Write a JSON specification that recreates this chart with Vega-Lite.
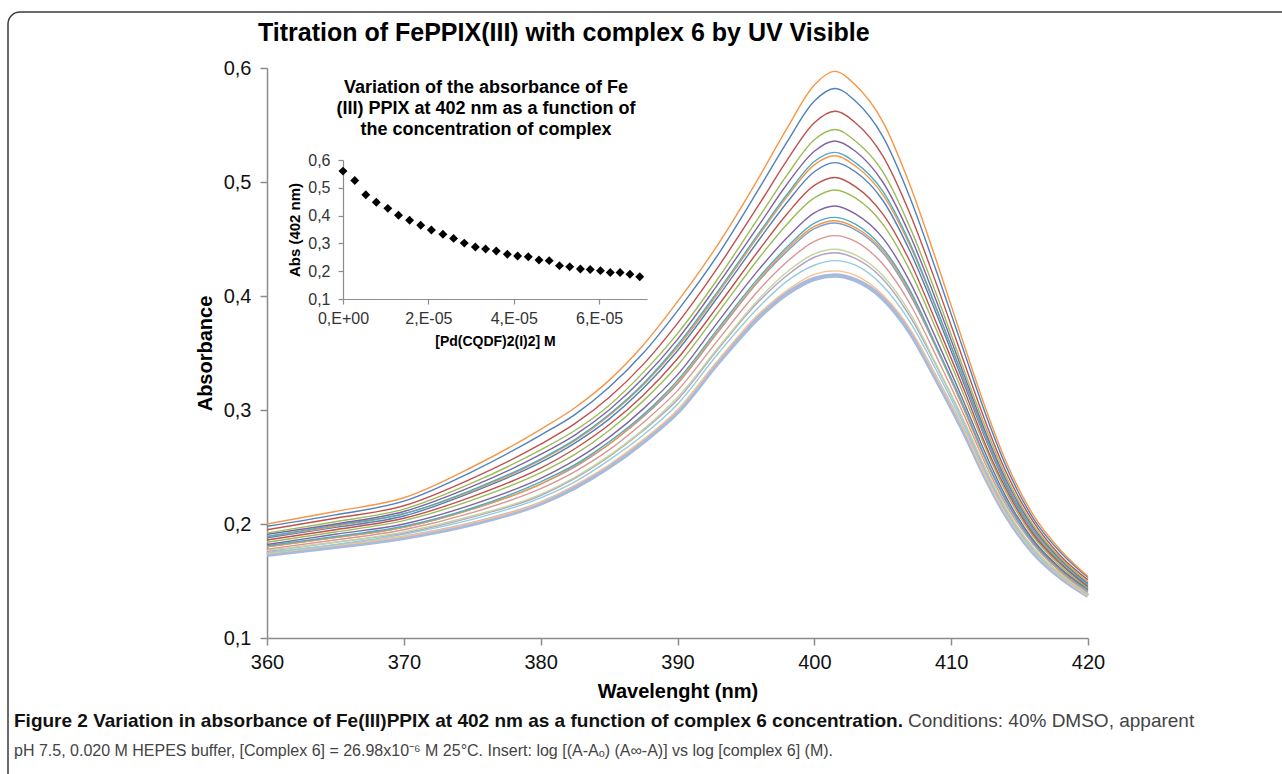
{
"$schema": "https://vega.github.io/schema/vega-lite/v6.json",
"width": 821, "height": 570,
"autosize": {"type": "none"},
"padding": {"left": 267, "top": 68, "right": 194, "bottom": 136},
"background": "white",
"config": {"view": {"stroke": null}, "font": "Liberation Sans", "axis": {"grid": false}},
"resolve": {"scale": {"x": "independent", "y": "independent"}},
"layer": [
{
 "data": {"values": [{}]},
 "mark": {"type": "rect", "x": -259, "y": -56, "x2": 1040, "y2": 730, "cornerRadius": 12, "fillOpacity": 0, "fill": "white", "stroke": "#3a3a3a", "strokeWidth": 1.5},
 "encoding": {}
},
{
 "data": {"values": [
{"s":20,"w":360,"a":0.173},{"s":20,"w":365,"a":0.180},{"s":20,"w":370,"a":0.188},{"s":20,"w":375,"a":0.200},{"s":20,"w":380,"a":0.218},{"s":20,"w":382.5,"a":0.232},{"s":20,"w":385,"a":0.250},{"s":20,"w":387.5,"a":0.272},{"s":20,"w":390,"a":0.298},{"s":20,"w":393,"a":0.342},{"s":20,"w":396,"a":0.382},{"s":20,"w":398,"a":0.402},{"s":20,"w":400,"a":0.415},{"s":20,"w":401.5,"a":0.418},{"s":20,"w":403,"a":0.414},{"s":20,"w":405,"a":0.398},{"s":20,"w":407,"a":0.368},{"s":20,"w":409,"a":0.325},{"s":20,"w":411,"a":0.279},{"s":20,"w":412.5,"a":0.241},{"s":20,"w":414,"a":0.208},{"s":20,"w":416,"a":0.175},{"s":20,"w":418,"a":0.153},{"s":20,"w":420,"a":0.137},
{"s":19,"w":360,"a":0.174},{"s":19,"w":365,"a":0.181},{"s":19,"w":370,"a":0.189},{"s":19,"w":375,"a":0.201},{"s":19,"w":380,"a":0.219},{"s":19,"w":382.5,"a":0.234},{"s":19,"w":385,"a":0.252},{"s":19,"w":387.5,"a":0.274},{"s":19,"w":390,"a":0.300},{"s":19,"w":393,"a":0.344},{"s":19,"w":396,"a":0.385},{"s":19,"w":398,"a":0.405},{"s":19,"w":400,"a":0.419},{"s":19,"w":401.5,"a":0.422},{"s":19,"w":403,"a":0.418},{"s":19,"w":405,"a":0.401},{"s":19,"w":407,"a":0.371},{"s":19,"w":409,"a":0.327},{"s":19,"w":411,"a":0.281},{"s":19,"w":412.5,"a":0.242},{"s":19,"w":414,"a":0.209},{"s":19,"w":416,"a":0.176},{"s":19,"w":418,"a":0.154},{"s":19,"w":420,"a":0.137},
{"s":18,"w":360,"a":0.175},{"s":18,"w":365,"a":0.182},{"s":18,"w":370,"a":0.191},{"s":18,"w":375,"a":0.204},{"s":18,"w":380,"a":0.223},{"s":18,"w":382.5,"a":0.237},{"s":18,"w":385,"a":0.256},{"s":18,"w":387.5,"a":0.278},{"s":18,"w":390,"a":0.305},{"s":18,"w":393,"a":0.350},{"s":18,"w":396,"a":0.391},{"s":18,"w":398,"a":0.413},{"s":18,"w":400,"a":0.427},{"s":18,"w":401.5,"a":0.431},{"s":18,"w":403,"a":0.427},{"s":18,"w":405,"a":0.409},{"s":18,"w":407,"a":0.377},{"s":18,"w":409,"a":0.333},{"s":18,"w":411,"a":0.285},{"s":18,"w":412.5,"a":0.246},{"s":18,"w":414,"a":0.211},{"s":18,"w":416,"a":0.177},{"s":18,"w":418,"a":0.155},{"s":18,"w":420,"a":0.138},
{"s":17,"w":360,"a":0.176},{"s":17,"w":365,"a":0.184},{"s":17,"w":370,"a":0.192},{"s":17,"w":375,"a":0.206},{"s":17,"w":380,"a":0.225},{"s":17,"w":382.5,"a":0.240},{"s":17,"w":385,"a":0.259},{"s":17,"w":387.5,"a":0.282},{"s":17,"w":390,"a":0.309},{"s":17,"w":393,"a":0.354},{"s":17,"w":396,"a":0.396},{"s":17,"w":398,"a":0.418},{"s":17,"w":400,"a":0.434},{"s":17,"w":401.5,"a":0.438},{"s":17,"w":403,"a":0.433},{"s":17,"w":405,"a":0.415},{"s":17,"w":407,"a":0.382},{"s":17,"w":409,"a":0.337},{"s":17,"w":411,"a":0.288},{"s":17,"w":412.5,"a":0.248},{"s":17,"w":414,"a":0.213},{"s":17,"w":416,"a":0.179},{"s":17,"w":418,"a":0.156},{"s":17,"w":420,"a":0.139},
{"s":16,"w":360,"a":0.177},{"s":16,"w":365,"a":0.184},{"s":16,"w":370,"a":0.193},{"s":16,"w":375,"a":0.207},{"s":16,"w":380,"a":0.226},{"s":16,"w":382.5,"a":0.241},{"s":16,"w":385,"a":0.260},{"s":16,"w":387.5,"a":0.283},{"s":16,"w":390,"a":0.311},{"s":16,"w":393,"a":0.355},{"s":16,"w":396,"a":0.398},{"s":16,"w":398,"a":0.421},{"s":16,"w":400,"a":0.437},{"s":16,"w":401.5,"a":0.441},{"s":16,"w":403,"a":0.436},{"s":16,"w":405,"a":0.418},{"s":16,"w":407,"a":0.385},{"s":16,"w":409,"a":0.338},{"s":16,"w":411,"a":0.289},{"s":16,"w":412.5,"a":0.249},{"s":16,"w":414,"a":0.214},{"s":16,"w":416,"a":0.179},{"s":16,"w":418,"a":0.156},{"s":16,"w":420,"a":0.139},
{"s":15,"w":360,"a":0.178},{"s":15,"w":365,"a":0.186},{"s":15,"w":370,"a":0.195},{"s":15,"w":375,"a":0.210},{"s":15,"w":380,"a":0.231},{"s":15,"w":382.5,"a":0.246},{"s":15,"w":385,"a":0.265},{"s":15,"w":387.5,"a":0.289},{"s":15,"w":390,"a":0.317},{"s":15,"w":393,"a":0.362},{"s":15,"w":396,"a":0.406},{"s":15,"w":398,"a":0.430},{"s":15,"w":400,"a":0.448},{"s":15,"w":401.5,"a":0.453},{"s":15,"w":403,"a":0.448},{"s":15,"w":405,"a":0.428},{"s":15,"w":407,"a":0.393},{"s":15,"w":409,"a":0.345},{"s":15,"w":411,"a":0.294},{"s":15,"w":412.5,"a":0.253},{"s":15,"w":414,"a":0.217},{"s":15,"w":416,"a":0.182},{"s":15,"w":418,"a":0.158},{"s":15,"w":420,"a":0.140},
{"s":14,"w":360,"a":0.180},{"s":14,"w":365,"a":0.188},{"s":14,"w":370,"a":0.197},{"s":14,"w":375,"a":0.213},{"s":14,"w":380,"a":0.235},{"s":14,"w":382.5,"a":0.250},{"s":14,"w":385,"a":0.270},{"s":14,"w":387.5,"a":0.294},{"s":14,"w":390,"a":0.323},{"s":14,"w":393,"a":0.369},{"s":14,"w":396,"a":0.414},{"s":14,"w":398,"a":0.439},{"s":14,"w":400,"a":0.459},{"s":14,"w":401.5,"a":0.464},{"s":14,"w":403,"a":0.458},{"s":14,"w":405,"a":0.438},{"s":14,"w":407,"a":0.401},{"s":14,"w":409,"a":0.352},{"s":14,"w":411,"a":0.299},{"s":14,"w":412.5,"a":0.257},{"s":14,"w":414,"a":0.220},{"s":14,"w":416,"a":0.184},{"s":14,"w":418,"a":0.159},{"s":14,"w":420,"a":0.141},
{"s":13,"w":360,"a":0.180},{"s":13,"w":365,"a":0.188},{"s":13,"w":370,"a":0.197},{"s":13,"w":375,"a":0.213},{"s":13,"w":380,"a":0.235},{"s":13,"w":382.5,"a":0.251},{"s":13,"w":385,"a":0.270},{"s":13,"w":387.5,"a":0.295},{"s":13,"w":390,"a":0.324},{"s":13,"w":393,"a":0.370},{"s":13,"w":396,"a":0.415},{"s":13,"w":398,"a":0.441},{"s":13,"w":400,"a":0.461},{"s":13,"w":401.5,"a":0.466},{"s":13,"w":403,"a":0.460},{"s":13,"w":405,"a":0.440},{"s":13,"w":407,"a":0.403},{"s":13,"w":409,"a":0.353},{"s":13,"w":411,"a":0.299},{"s":13,"w":412.5,"a":0.257},{"s":13,"w":414,"a":0.221},{"s":13,"w":416,"a":0.184},{"s":13,"w":418,"a":0.159},{"s":13,"w":420,"a":0.142},
{"s":12,"w":360,"a":0.181},{"s":12,"w":365,"a":0.189},{"s":12,"w":370,"a":0.198},{"s":12,"w":375,"a":0.214},{"s":12,"w":380,"a":0.237},{"s":12,"w":382.5,"a":0.252},{"s":12,"w":385,"a":0.272},{"s":12,"w":387.5,"a":0.296},{"s":12,"w":390,"a":0.326},{"s":12,"w":393,"a":0.372},{"s":12,"w":396,"a":0.417},{"s":12,"w":398,"a":0.443},{"s":12,"w":400,"a":0.464},{"s":12,"w":401.5,"a":0.469},{"s":12,"w":403,"a":0.463},{"s":12,"w":405,"a":0.442},{"s":12,"w":407,"a":0.405},{"s":12,"w":409,"a":0.354},{"s":12,"w":411,"a":0.301},{"s":12,"w":412.5,"a":0.258},{"s":12,"w":414,"a":0.221},{"s":12,"w":416,"a":0.184},{"s":12,"w":418,"a":0.160},{"s":12,"w":420,"a":0.142},
{"s":11,"w":360,"a":0.182},{"s":11,"w":365,"a":0.191},{"s":11,"w":370,"a":0.200},{"s":11,"w":375,"a":0.217},{"s":11,"w":380,"a":0.240},{"s":11,"w":382.5,"a":0.256},{"s":11,"w":385,"a":0.276},{"s":11,"w":387.5,"a":0.301},{"s":11,"w":390,"a":0.331},{"s":11,"w":393,"a":0.378},{"s":11,"w":396,"a":0.424},{"s":11,"w":398,"a":0.451},{"s":11,"w":400,"a":0.473},{"s":11,"w":401.5,"a":0.479},{"s":11,"w":403,"a":0.472},{"s":11,"w":405,"a":0.451},{"s":11,"w":407,"a":0.412},{"s":11,"w":409,"a":0.360},{"s":11,"w":411,"a":0.305},{"s":11,"w":412.5,"a":0.262},{"s":11,"w":414,"a":0.224},{"s":11,"w":416,"a":0.186},{"s":11,"w":418,"a":0.161},{"s":11,"w":420,"a":0.143},
{"s":10,"w":360,"a":0.184},{"s":10,"w":365,"a":0.193},{"s":10,"w":370,"a":0.203},{"s":10,"w":375,"a":0.221},{"s":10,"w":380,"a":0.245},{"s":10,"w":382.5,"a":0.261},{"s":10,"w":385,"a":0.282},{"s":10,"w":387.5,"a":0.308},{"s":10,"w":390,"a":0.339},{"s":10,"w":393,"a":0.386},{"s":10,"w":396,"a":0.434},{"s":10,"w":398,"a":0.463},{"s":10,"w":400,"a":0.486},{"s":10,"w":401.5,"a":0.493},{"s":10,"w":403,"a":0.486},{"s":10,"w":405,"a":0.463},{"s":10,"w":407,"a":0.422},{"s":10,"w":409,"a":0.368},{"s":10,"w":411,"a":0.311},{"s":10,"w":412.5,"a":0.267},{"s":10,"w":414,"a":0.228},{"s":10,"w":416,"a":0.189},{"s":10,"w":418,"a":0.163},{"s":10,"w":420,"a":0.144},
{"s":9,"w":360,"a":0.186},{"s":9,"w":365,"a":0.195},{"s":9,"w":370,"a":0.205},{"s":9,"w":375,"a":0.224},{"s":9,"w":380,"a":0.249},{"s":9,"w":382.5,"a":0.266},{"s":9,"w":385,"a":0.287},{"s":9,"w":387.5,"a":0.313},{"s":9,"w":390,"a":0.345},{"s":9,"w":393,"a":0.392},{"s":9,"w":396,"a":0.441},{"s":9,"w":398,"a":0.472},{"s":9,"w":400,"a":0.497},{"s":9,"w":401.5,"a":0.504},{"s":9,"w":403,"a":0.496},{"s":9,"w":405,"a":0.472},{"s":9,"w":407,"a":0.430},{"s":9,"w":409,"a":0.374},{"s":9,"w":411,"a":0.316},{"s":9,"w":412.5,"a":0.270},{"s":9,"w":414,"a":0.231},{"s":9,"w":416,"a":0.191},{"s":9,"w":418,"a":0.165},{"s":9,"w":420,"a":0.145},
{"s":8,"w":360,"a":0.188},{"s":8,"w":365,"a":0.197},{"s":8,"w":370,"a":0.207},{"s":8,"w":375,"a":0.228},{"s":8,"w":380,"a":0.254},{"s":8,"w":382.5,"a":0.271},{"s":8,"w":385,"a":0.292},{"s":8,"w":387.5,"a":0.319},{"s":8,"w":390,"a":0.352},{"s":8,"w":393,"a":0.400},{"s":8,"w":396,"a":0.450},{"s":8,"w":398,"a":0.482},{"s":8,"w":400,"a":0.509},{"s":8,"w":401.5,"a":0.517},{"s":8,"w":403,"a":0.509},{"s":8,"w":405,"a":0.484},{"s":8,"w":407,"a":0.439},{"s":8,"w":409,"a":0.382},{"s":8,"w":411,"a":0.321},{"s":8,"w":412.5,"a":0.275},{"s":8,"w":414,"a":0.234},{"s":8,"w":416,"a":0.193},{"s":8,"w":418,"a":0.166},{"s":8,"w":420,"a":0.146},
{"s":7,"w":360,"a":0.189},{"s":7,"w":365,"a":0.198},{"s":7,"w":370,"a":0.209},{"s":7,"w":375,"a":0.229},{"s":7,"w":380,"a":0.256},{"s":7,"w":382.5,"a":0.273},{"s":7,"w":385,"a":0.295},{"s":7,"w":387.5,"a":0.322},{"s":7,"w":390,"a":0.355},{"s":7,"w":393,"a":0.403},{"s":7,"w":396,"a":0.454},{"s":7,"w":398,"a":0.487},{"s":7,"w":400,"a":0.515},{"s":7,"w":401.5,"a":0.523},{"s":7,"w":403,"a":0.514},{"s":7,"w":405,"a":0.489},{"s":7,"w":407,"a":0.444},{"s":7,"w":409,"a":0.386},{"s":7,"w":411,"a":0.324},{"s":7,"w":412.5,"a":0.277},{"s":7,"w":414,"a":0.236},{"s":7,"w":416,"a":0.194},{"s":7,"w":418,"a":0.167},{"s":7,"w":420,"a":0.147},
{"s":6,"w":360,"a":0.189},{"s":6,"w":365,"a":0.199},{"s":6,"w":370,"a":0.209},{"s":6,"w":375,"a":0.230},{"s":6,"w":380,"a":0.257},{"s":6,"w":382.5,"a":0.274},{"s":6,"w":385,"a":0.296},{"s":6,"w":387.5,"a":0.323},{"s":6,"w":390,"a":0.357},{"s":6,"w":393,"a":0.405},{"s":6,"w":396,"a":0.456},{"s":6,"w":398,"a":0.489},{"s":6,"w":400,"a":0.518},{"s":6,"w":401.5,"a":0.526},{"s":6,"w":403,"a":0.517},{"s":6,"w":405,"a":0.492},{"s":6,"w":407,"a":0.446},{"s":6,"w":409,"a":0.387},{"s":6,"w":411,"a":0.325},{"s":6,"w":412.5,"a":0.278},{"s":6,"w":414,"a":0.236},{"s":6,"w":416,"a":0.195},{"s":6,"w":418,"a":0.168},{"s":6,"w":420,"a":0.147},
{"s":5,"w":360,"a":0.191},{"s":5,"w":365,"a":0.200},{"s":5,"w":370,"a":0.211},{"s":5,"w":375,"a":0.233},{"s":5,"w":380,"a":0.261},{"s":5,"w":382.5,"a":0.278},{"s":5,"w":385,"a":0.300},{"s":5,"w":387.5,"a":0.328},{"s":5,"w":390,"a":0.362},{"s":5,"w":393,"a":0.411},{"s":5,"w":396,"a":0.463},{"s":5,"w":398,"a":0.498},{"s":5,"w":400,"a":0.527},{"s":5,"w":401.5,"a":0.536},{"s":5,"w":403,"a":0.527},{"s":5,"w":405,"a":0.500},{"s":5,"w":407,"a":0.453},{"s":5,"w":409,"a":0.393},{"s":5,"w":411,"a":0.329},{"s":5,"w":412.5,"a":0.281},{"s":5,"w":414,"a":0.239},{"s":5,"w":416,"a":0.197},{"s":5,"w":418,"a":0.169},{"s":5,"w":420,"a":0.148},
{"s":4,"w":360,"a":0.192},{"s":4,"w":365,"a":0.202},{"s":4,"w":370,"a":0.213},{"s":4,"w":375,"a":0.236},{"s":4,"w":380,"a":0.265},{"s":4,"w":382.5,"a":0.282},{"s":4,"w":385,"a":0.304},{"s":4,"w":387.5,"a":0.333},{"s":4,"w":390,"a":0.367},{"s":4,"w":393,"a":0.416},{"s":4,"w":396,"a":0.470},{"s":4,"w":398,"a":0.506},{"s":4,"w":400,"a":0.537},{"s":4,"w":401.5,"a":0.546},{"s":4,"w":403,"a":0.536},{"s":4,"w":405,"a":0.509},{"s":4,"w":407,"a":0.460},{"s":4,"w":409,"a":0.399},{"s":4,"w":411,"a":0.333},{"s":4,"w":412.5,"a":0.285},{"s":4,"w":414,"a":0.242},{"s":4,"w":416,"a":0.199},{"s":4,"w":418,"a":0.170},{"s":4,"w":420,"a":0.149},
{"s":3,"w":360,"a":0.195},{"s":3,"w":365,"a":0.205},{"s":3,"w":370,"a":0.216},{"s":3,"w":375,"a":0.240},{"s":3,"w":380,"a":0.270},{"s":3,"w":382.5,"a":0.288},{"s":3,"w":385,"a":0.311},{"s":3,"w":387.5,"a":0.340},{"s":3,"w":390,"a":0.376},{"s":3,"w":393,"a":0.426},{"s":3,"w":396,"a":0.481},{"s":3,"w":398,"a":0.519},{"s":3,"w":400,"a":0.552},{"s":3,"w":401.5,"a":0.562},{"s":3,"w":403,"a":0.552},{"s":3,"w":405,"a":0.523},{"s":3,"w":407,"a":0.472},{"s":3,"w":409,"a":0.408},{"s":3,"w":411,"a":0.340},{"s":3,"w":412.5,"a":0.290},{"s":3,"w":414,"a":0.246},{"s":3,"w":416,"a":0.202},{"s":3,"w":418,"a":0.172},{"s":3,"w":420,"a":0.151},
{"s":2,"w":360,"a":0.198},{"s":2,"w":365,"a":0.208},{"s":2,"w":370,"a":0.220},{"s":2,"w":375,"a":0.246},{"s":2,"w":380,"a":0.278},{"s":2,"w":382.5,"a":0.296},{"s":2,"w":385,"a":0.320},{"s":2,"w":387.5,"a":0.350},{"s":2,"w":390,"a":0.387},{"s":2,"w":393,"a":0.437},{"s":2,"w":396,"a":0.495},{"s":2,"w":398,"a":0.535},{"s":2,"w":400,"a":0.571},{"s":2,"w":401.5,"a":0.582},{"s":2,"w":403,"a":0.571},{"s":2,"w":405,"a":0.540},{"s":2,"w":407,"a":0.486},{"s":2,"w":409,"a":0.419},{"s":2,"w":411,"a":0.349},{"s":2,"w":412.5,"a":0.297},{"s":2,"w":414,"a":0.251},{"s":2,"w":416,"a":0.205},{"s":2,"w":418,"a":0.175},{"s":2,"w":420,"a":0.153},
{"s":1,"w":360,"a":0.200},{"s":1,"w":365,"a":0.211},{"s":1,"w":370,"a":0.223},{"s":1,"w":375,"a":0.250},{"s":1,"w":380,"a":0.283},{"s":1,"w":382.5,"a":0.302},{"s":1,"w":385,"a":0.326},{"s":1,"w":387.5,"a":0.357},{"s":1,"w":390,"a":0.395},{"s":1,"w":393,"a":0.446},{"s":1,"w":396,"a":0.505},{"s":1,"w":398,"a":0.547},{"s":1,"w":400,"a":0.585},{"s":1,"w":401.5,"a":0.597},{"s":1,"w":403,"a":0.585},{"s":1,"w":405,"a":0.553},{"s":1,"w":407,"a":0.497},{"s":1,"w":409,"a":0.428},{"s":1,"w":411,"a":0.355},{"s":1,"w":412.5,"a":0.302},{"s":1,"w":414,"a":0.255},{"s":1,"w":416,"a":0.208},{"s":1,"w":418,"a":0.177},{"s":1,"w":420,"a":0.154}
 ]},
 "mark": {"type": "line", "interpolate": "monotone"},
 "encoding": {
  "x": {"field": "w", "type": "quantitative",
   "scale": {"domain": [360, 420], "nice": false, "zero": false},
   "axis": {"values": [360, 370, 380, 390, 400, 410, 420], "title": "Wavelenght (nm)", "titleFontSize": 20, "titleFontWeight": "bold", "titleColor": "#000", "titlePadding": 9,
    "labelFontSize": 20, "labelColor": "#111", "labelFlush": false, "labelOverlap": false, "labelPadding": 7,
    "tickSize": 7, "tickColor": "#8C8C8C", "tickWidth": 1.5, "domainColor": "#8C8C8C", "domainWidth": 1.5, "grid": false}},
  "y": {"field": "a", "type": "quantitative",
   "scale": {"domain": [0.1, 0.6], "nice": false, "zero": false},
   "axis": {"values": [0.1, 0.2, 0.3, 0.4, 0.5, 0.6], "labelExpr": "replace(format(datum.value, '.1f'), '.', ',')", "title": "Absorbance", "titleFontSize": 20, "titleFontWeight": "bold", "titleColor": "#000", "titlePadding": 8,
    "labelFontSize": 20, "labelColor": "#111", "labelFlush": false, "labelOverlap": false, "labelPadding": 9,
    "tickSize": 7, "tickColor": "#8C8C8C", "tickWidth": 1.5, "domainColor": "#8C8C8C", "domainWidth": 1.5, "grid": false}},
  "color": {"field": "s", "type": "nominal", "legend": null,
   "scale": {"domain": [20, 19, 18, 17, 16, 15, 14, 13, 12, 11, 10, 9, 8, 7, 6, 5, 4, 3, 2, 1],
    "range": ["#A7BBDD", "#FAC090", "#93CDDD", "#B3A2C7", "#C3D69B", "#D99694", "#7BA0CD", "#F79646", "#4BACC6", "#8064A2", "#9BBB59", "#C0504D", "#4F81BD", "#F79646", "#4BACC6", "#8064A2", "#9BBB59", "#C0504D", "#4F81BD", "#F79646"]}},
  "strokeWidth": {"condition": {"test": "datum.s == 20", "value": 4.5}, "value": 1.4}
 }
},
{
 "data": {"values": [
{"c":0,"v":0.560},{"c":0.00000275,"v":0.526},{"c":0.00000534,"v":0.475},{"c":0.0000078,"v":0.448},{"c":0.0000105,"v":0.426},{"c":0.0000130,"v":0.401},{"c":0.0000156,"v":0.383},{"c":0.0000182,"v":0.365},{"c":0.0000207,"v":0.348},{"c":0.0000234,"v":0.333},{"c":0.0000259,"v":0.318},{"c":0.0000284,"v":0.301},{"c":0.0000310,"v":0.287},{"c":0.0000334,"v":0.280},{"c":0.0000359,"v":0.273},{"c":0.0000385,"v":0.261},{"c":0.0000409,"v":0.255},{"c":0.0000434,"v":0.252},{"c":0.0000459,"v":0.240},{"c":0.0000483,"v":0.238},{"c":0.0000507,"v":0.220},{"c":0.0000531,"v":0.216},{"c":0.0000556,"v":0.208},{"c":0.0000579,"v":0.206},{"c":0.0000603,"v":0.202},{"c":0.0000626,"v":0.195},{"c":0.0000649,"v":0.195},{"c":0.0000672,"v":0.189},{"c":0.0000695,"v":0.180}
 ]},
 "mark": {"type": "point", "shape": "diamond", "filled": true, "color": "#000", "opacity": 1, "size": 80},
 "encoding": {
  "x": {"field": "c", "type": "quantitative",
   "scale": {"domain": [0, 0.0000712], "range": [76, 380], "nice": false, "zero": false},
   "axis": {"orient": "bottom", "offset": -339, "values": [0, 0.00002, 0.00004, 0.00006],
    "labelExpr": "datum.value == 0 ? '0,E+00' : format(datum.value * 100000, 'd') + ',E-05'",
    "title": "[Pd(CQDF)2(I)2] M", "titleFontSize": 14, "titleFontWeight": "bold", "titleColor": "#000", "titlePadding": 8,
    "labelFontSize": 16, "labelColor": "#333", "labelFlush": false, "labelOverlap": false, "labelPadding": 6,
    "tickSize": 5, "tickColor": "#8C8C8C", "tickWidth": 1.2, "domainColor": "#8C8C8C", "domainWidth": 1.2, "grid": false}},
  "y": {"field": "v", "type": "quantitative",
   "scale": {"domain": [0.1, 0.6], "range": [231, 92], "nice": false, "zero": false},
   "axis": {"orient": "left", "offset": -76, "values": [0.1, 0.2, 0.3, 0.4, 0.5, 0.6],
    "labelExpr": "replace(format(datum.value, '.1f'), '.', ',')",
    "title": "Abs (402 nm)", "titleFontSize": 15, "titleFontWeight": "bold", "titleColor": "#000", "titlePadding": 5,
    "labelFontSize": 16, "labelColor": "#333", "labelFlush": false, "labelOverlap": false, "labelPadding": 8,
    "tickSize": 5, "tickColor": "#8C8C8C", "tickWidth": 1.2, "domainColor": "#8C8C8C", "domainWidth": 1.2, "grid": false}}
 }
},
{
 "data": {"values": [{}]},
 "mark": {"type": "text", "x": -9, "y": -35, "align": "left", "baseline": "middle", "font": "Liberation Sans", "fontSize": 25, "fontWeight": "bold", "color": "#000",
  "text": "Titration of FePPIX(III) with complex 6 by UV Visible"},
 "encoding": {}
},
{
 "data": {"values": [{}]},
 "mark": {"type": "text", "x": 219, "y": 11, "align": "center", "baseline": "top", "font": "Liberation Sans", "fontSize": 18, "fontWeight": "bold", "color": "#000", "lineHeight": 21,
  "text": ["Variation of the absorbance of Fe", "(III) PPIX at 402 nm as a function of", "the concentration of complex"]},
 "encoding": {}
},
{
 "data": {"values": [{}]},
 "mark": {"type": "text", "x": -253, "y": 653, "align": "left", "baseline": "middle", "font": "Liberation Sans", "fontSize": 19, "fontWeight": "bold", "color": "#111",
  "text": "Figure 2 Variation in absorbance of Fe(III)PPIX at 402 nm as a function of complex 6 concentration."},
 "encoding": {}
},
{
 "data": {"values": [{}]},
 "mark": {"type": "text", "x": 641, "y": 653, "align": "left", "baseline": "middle", "font": "Liberation Sans", "fontSize": 19, "fontWeight": "normal", "color": "#444",
  "text": "Conditions: 40% DMSO, apparent"},
 "encoding": {}
},
{
 "data": {"values": [{}]},
 "mark": {"type": "text", "x": -253, "y": 683, "align": "left", "baseline": "middle", "font": "Liberation Sans", "fontSize": 16, "fontWeight": "normal", "color": "#444",
  "text": "pH 7.5, 0.020 M HEPES buffer, [Complex 6] = 26.98x10⁻⁶ M 25°C. Insert: log [(A-Aₒ) (A∞-A)] vs log [complex 6] (M)."},
 "encoding": {}
}
]
}
